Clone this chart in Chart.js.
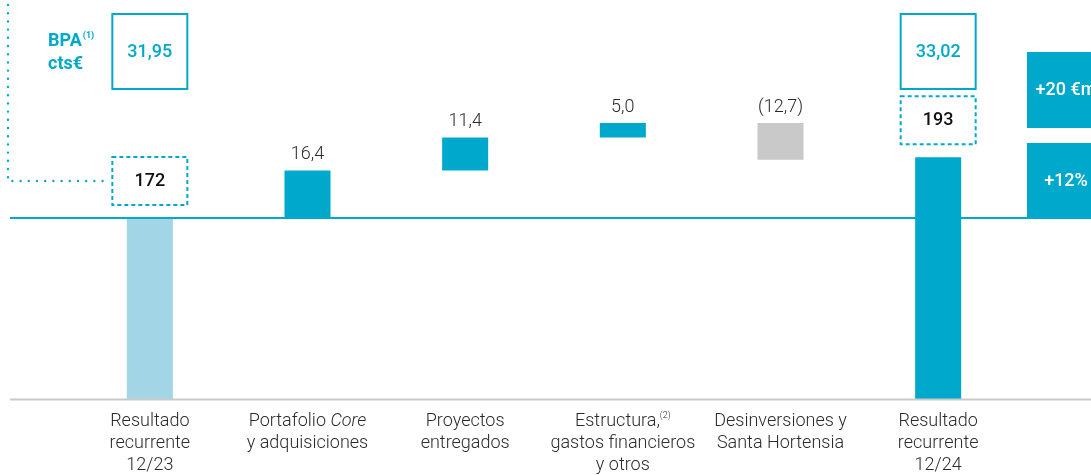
<!DOCTYPE html>
<html>
<head>
<meta charset="utf-8">
<script src="https://cdn.jsdelivr.net/npm/chart.js@4.4.1/dist/chart.umd.min.js"></script>
<style>
  html, body { margin: 0; padding: 0; background: #fff; }
  #contenedor { width: 1091px; height: 475px; position: relative; }
</style>
</head>
<body>
<div id="contenedor"><canvas id="chartResultado"></canvas></div>
<script>
// Datos del puente de resultado recurrente (€m)
const categorias = [
    [['Resultado'], ['recurrente'], ['12/23']],
    [['Portafolio ', ['Core', 'italic']], ['y adquisiciones']],
    [['Proyectos'], ['entregados']],
    [['Estructura,', ['(2)', 'sup']], ['gastos financieros'], ['y otros']],
    [['Desinversiones y'], ['Santa Hortensia']],
    [['Resultado'], ['recurrente'], ['12/24']]
];
const valorInicial = 172;
const valorFinal = 193;
const variaciones = [16.4, 11.4, 5.0, -12.7];
const bpa = ['31,95', '33,02'];
const resumen = ['+20 €m', '+12%'];

const TEAL = '#00A9CB';
const CLARO = '#A2D6E6';
const GRIS = '#C9C9C9';
const TEXTO = '#2b2b2b';
const FUENTE = 'Roboto, "Liberation Sans", sans-serif';

// Barras: totales desde la base del eje, variaciones flotantes
let acumulado = valorInicial;
const barras = [valorInicial];
const colores = [CLARO];
variaciones.forEach(v => {
    barras.push([acumulado, acumulado + v]);
    colores.push(v < 0 ? GRIS : TEAL);
    acumulado += v;
});
barras.push(valorFinal);
colores.push(TEAL);

const formatear = v => {
    const s = Math.abs(v).toFixed(1).replace('.', ',');
    return v < 0 ? `(${s})` : s;
};

// Dibuja una línea compuesta por trozos con estilos distintos, centrada en cx
function lineaMixta(ctx, trozos, cx, base, tam, peso, color) {
    const partes = trozos.map(t => {
        const [texto, estilo] = Array.isArray(t) ? t : [t, null];
        let font = `${peso} ${tam}px ${FUENTE}`;
        let dy = 0;
        if (estilo === 'italic') font = `italic ${peso} ${tam}px ${FUENTE}`;
        if (estilo === 'sup') { font = `${peso} ${Math.round(tam * 0.5)}px ${FUENTE}`; dy = -tam * 0.42; }
        ctx.font = font;
        return { texto, font, dy, w: ctx.measureText(texto).width };
    });
    const total = partes.reduce((s, p) => s + p.w, 0);
    let xx = cx - total / 2;
    ctx.fillStyle = color;
    ctx.textAlign = 'left';
    ctx.textBaseline = 'alphabetic';
    partes.forEach(p => {
        ctx.font = p.font;
        ctx.fillText(p.texto, xx, base + p.dy);
        xx += p.w;
    });
}

const anotaciones = {
    id: 'anotaciones',
    afterDatasetsDraw(chart) {
        const { ctx, chartArea, scales: { x, y } } = chart;
        const meta = chart.getDatasetMeta(0).data;
        const yIni = y.getPixelForValue(valorInicial);
        ctx.save();

        // línea de referencia del resultado 12/23
        ctx.strokeStyle = TEAL;
        ctx.lineWidth = 2;
        ctx.beginPath();
        ctx.moveTo(10, yIni);
        ctx.lineTo(1030, yIni);
        ctx.stroke();

        // base gris
        ctx.strokeStyle = GRIS;
        ctx.lineWidth = 2;
        ctx.beginPath();
        ctx.moveTo(10, chartArea.bottom);
        ctx.lineTo(chart.width, chartArea.bottom);
        ctx.stroke();

        // valores sobre las variaciones
        ctx.font = `300 18px ${FUENTE}`;
        ctx.fillStyle = TEXTO;
        ctx.textAlign = 'center';
        ctx.textBaseline = 'alphabetic';
        variaciones.forEach((v, i) => {
            const bar = meta[i + 1];
            const top = Math.min(bar.y, bar.base);
            ctx.fillText(formatear(v), bar.x, top - 11);
        });

        // etiquetas de categoría
        categorias.forEach((lineas, i) => {
            const cx = x.getPixelForValue(i);
            lineas.forEach((trozos, j) => {
                lineaMixta(ctx, trozos, cx, 426 + j * 22, 18, 300, TEXTO);
            });
        });

        // cajas BPA y totales
        const totales = [
            { bar: meta[0], bpa: bpa[0], valor: valorInicial },
            { bar: meta[meta.length - 1], bpa: bpa[1], valor: valorFinal }
        ];
        totales.forEach(t => {
            const cx = t.bar.x;
            ctx.setLineDash([]);
            ctx.strokeStyle = TEAL;
            ctx.lineWidth = 2;
            ctx.strokeRect(cx - 37.5, 14, 75, 75);
            ctx.font = `500 18px ${FUENTE}`;
            ctx.fillStyle = TEAL;
            ctx.textAlign = 'center';
            ctx.textBaseline = 'middle';
            ctx.fillText(t.bpa, cx, 52);

            const fondo = t.bar.y - 13;
            ctx.setLineDash([4, 3]);
            ctx.strokeRect(cx - 37.5, fondo - 48, 75, 48);
            ctx.setLineDash([]);
            ctx.fillStyle = '#111';
            ctx.fillText(String(t.valor), cx, fondo - 24);
        });

        // línea punteada hacia el total inicial
        const cajaIni = meta[0].y - 13 - 24;
        ctx.strokeStyle = TEAL;
        ctx.lineWidth = 2.4;
        ctx.lineCap = 'round';
        ctx.setLineDash([0, 8.2]);
        ctx.beginPath();
        ctx.moveTo(8, 5);
        ctx.lineTo(8, cajaIni);
        ctx.lineTo(meta[0].x - 40, cajaIni);
        ctx.stroke();
        ctx.setLineDash([]);
        ctx.lineCap = 'butt';

        // rótulo BPA
        ctx.fillStyle = TEAL;
        ctx.textAlign = 'left';
        ctx.textBaseline = 'alphabetic';
        ctx.font = `bold 18px ${FUENTE}`;
        ctx.fillText('BPA', 48, 46);
        const wBpa = ctx.measureText('BPA').width;
        ctx.font = `bold 9px ${FUENTE}`;
        ctx.fillText('(1)', 48 + wBpa + 1, 38);
        ctx.font = `bold 18px ${FUENTE}`;
        ctx.fillText('cts€', 48, 69);

        // resumen de la variación
        [[52, 128], [143, 219]].forEach(([a, b], i) => {
            ctx.fillStyle = TEAL;
            ctx.fillRect(1027, a, 80, b - a);
            ctx.fillStyle = '#fff';
            ctx.font = `500 18px ${FUENTE}`;
            ctx.textAlign = 'center';
            ctx.textBaseline = 'middle';
            ctx.fillText(resumen[i], 1066, (a + b) / 2);
        });

        ctx.restore();
    }
};

const ctxRes = document.getElementById('chartResultado').getContext('2d');
new Chart(ctxRes, {
    type: 'bar',
    data: {
        labels: categorias.map(l => l.map(t => t.map(p => Array.isArray(p) ? p[0] : p).join('')).join(' ')),
        datasets: [{
            data: barras,
            backgroundColor: colores,
            borderWidth: 0,
            barPercentage: 0.292,
            categoryPercentage: 1
        }]
    },
    options: {
        responsive: true,
        maintainAspectRatio: false,
        animation: false,
        layout: { padding: { left: 71, right: 74, top: 0, bottom: 75.5 } },
        plugins: { legend: { display: false }, tooltip: { enabled: false } },
        scales: {
            x: { display: false, offset: true },
            y: { display: false, min: 109.4, max: 247.2 }
        }
    },
    plugins: [anotaciones]
});
</script>
</body>
</html>
